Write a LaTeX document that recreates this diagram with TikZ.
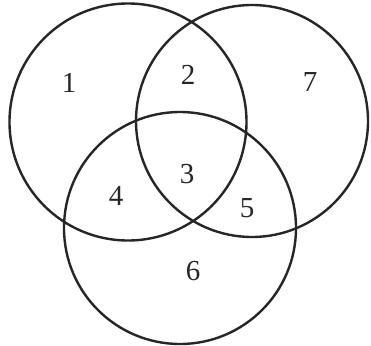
\documentclass[tikz,border=0pt]{standalone}
\usepackage{fontspec}
\setmainfont{Liberation Serif}
\begin{document}
\begin{tikzpicture}[x=1pt,y=-1pt,
  ring/.style={draw=black!85, line width=2.4pt, circle, inner sep=0pt},
  lbl/.style={font=\fontsize{29}{32}\selectfont, text=black!85, inner sep=0pt}]
\useasboundingbox[fill=white] (0,0) rectangle (371,345);
\node[ring, minimum size=237pt] (A) at (128,122) {};
\node[ring, minimum size=232pt] (B) at (252,121) {};
\node[ring, minimum size=232pt] (C) at (180,228) {};
\node[lbl] (n1) at (69,83) {1};
\node[lbl] (n2) at (188,75) {2};
\node[lbl] (n7) at (310,82) {7};
\node[lbl] (n3) at (187,174) {3};
\node[lbl] (n4) at (116,196) {4};
\node[lbl] (n5) at (247,208) {5};
\node[lbl] (n6) at (193,271) {6};
\end{tikzpicture}
\end{document}
